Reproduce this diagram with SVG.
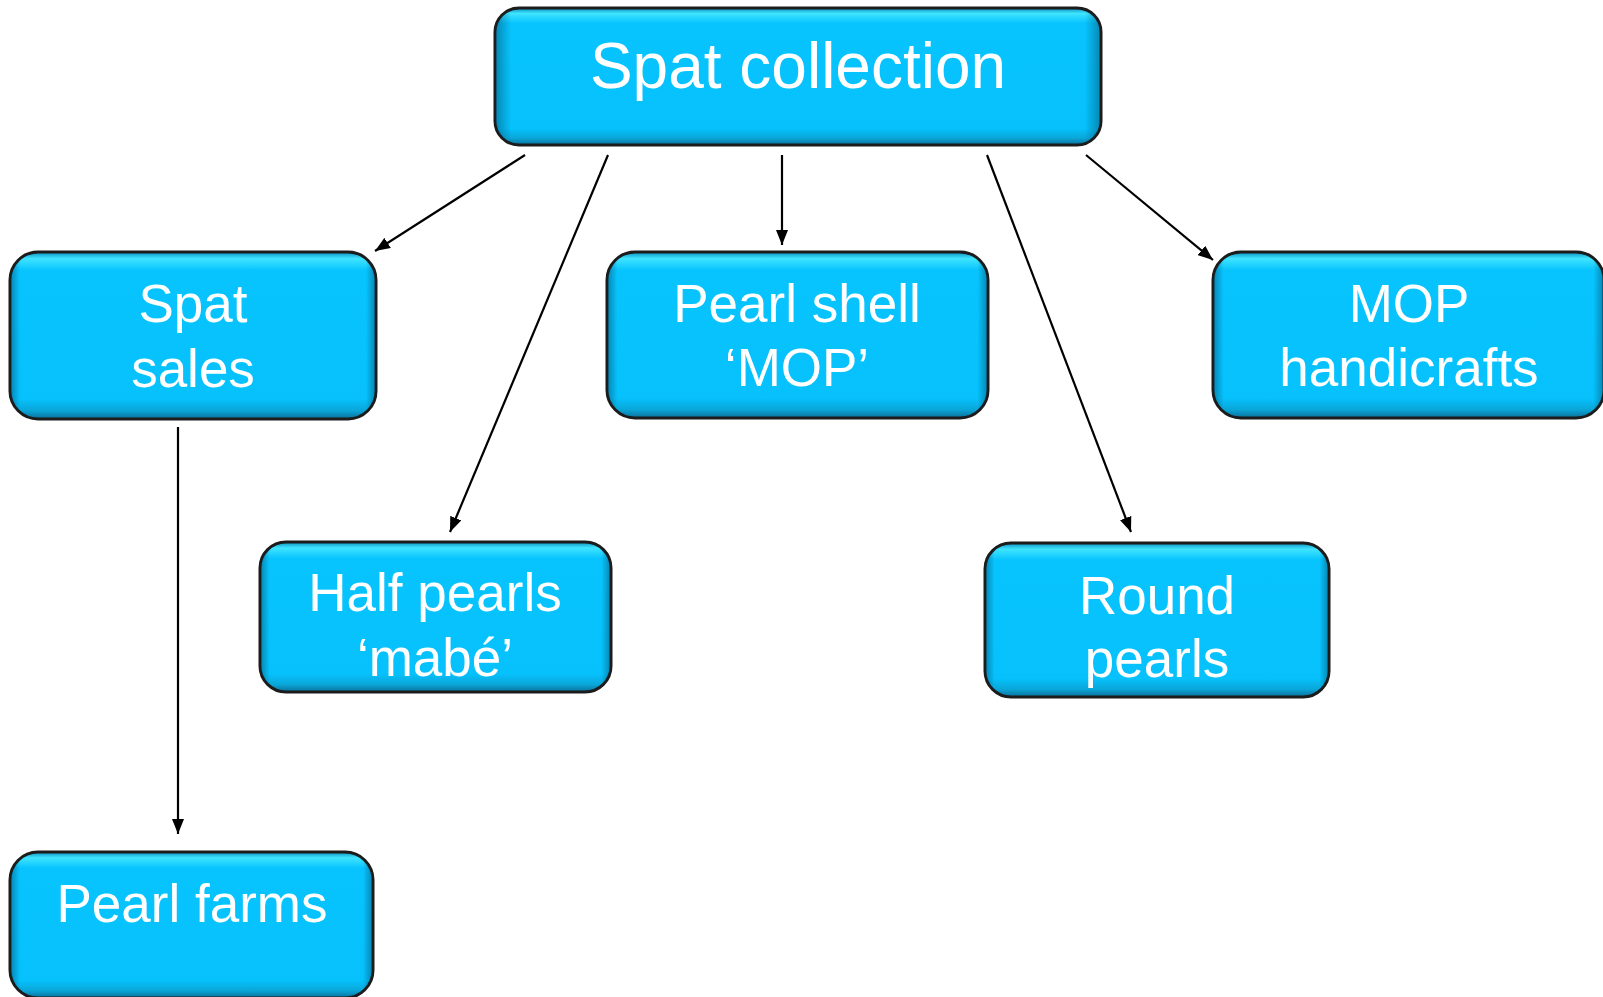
<svg xmlns="http://www.w3.org/2000/svg" width="1603" height="997" viewBox="0 0 1603 997">
<style>
.box{fill:url(#gv);stroke:#1c1c1c;stroke-width:3}
.edge{fill:url(#gh);stroke:none}
.lbl{font-family:"Liberation Sans",Arial,sans-serif;font-size:53px;fill:#ffffff;text-anchor:middle}
.big{font-size:64px}
.con{stroke:#000;stroke-width:2.2;fill:none;marker-end:url(#ah)}
</style>
<defs>
<linearGradient id="gv" x1="0" y1="0" x2="0" y2="1">
<stop offset="0" stop-color="#0b8fbf"/>
<stop offset="0.04" stop-color="#3fe4ff"/>
<stop offset="0.11" stop-color="#08c4fe"/>
<stop offset="0.88" stop-color="#06c1fc"/>
<stop offset="0.95" stop-color="#0aa6d8"/>
<stop offset="1" stop-color="#0b6f98"/>
</linearGradient>
<linearGradient id="gh" x1="0" y1="0" x2="1" y2="0">
<stop offset="0" stop-color="#05506e" stop-opacity="0.5"/>
<stop offset="0.025" stop-color="#05506e" stop-opacity="0"/>
<stop offset="0.975" stop-color="#05506e" stop-opacity="0"/>
<stop offset="1" stop-color="#05506e" stop-opacity="0.5"/>
</linearGradient>
<marker id="ah" markerUnits="userSpaceOnUse" markerWidth="16" markerHeight="12" refX="15" refY="6" orient="auto">
<path d="M0,0 L15,6 L0,12 z" fill="#000"/>
</marker>
</defs>
<rect width="1603" height="997" fill="#ffffff"/>
<g id="connectors">
<line class="con" x1="525" y1="155" x2="375" y2="251"/>
<line class="con" x1="608" y1="155" x2="450" y2="532"/>
<line class="con" x1="782" y1="155" x2="782" y2="245"/>
<line class="con" x1="987" y1="155" x2="1131" y2="532"/>
<line class="con" x1="1086" y1="155" x2="1213" y2="260"/>
<line class="con" x1="178" y1="427" x2="178" y2="834"/>
</g>
<g id="spat-collection">
<rect class="box" x="495" y="8" width="606" height="137" rx="24"/>
<rect class="edge" x="496" y="9" width="604" height="135" rx="23"/>
<text class="lbl big" x="798" y="88">Spat collection</text>
</g>
<g id="spat-sales">
<rect class="box" x="10" y="252" width="366" height="167" rx="28"/>
<rect class="edge" x="11" y="253" width="364" height="165" rx="27"/>
<text class="lbl" x="193" y="322">Spat</text>
<text class="lbl" x="193" y="387">sales</text>
</g>
<g id="pearl-shell">
<rect class="box" x="607" y="252" width="381" height="166" rx="28"/>
<rect class="edge" x="608" y="253" width="379" height="164" rx="27"/>
<text class="lbl" x="797" y="322">Pearl shell</text>
<text class="lbl" x="797" y="386">‘MOP’</text>
</g>
<g id="mop-handicrafts">
<rect class="box" x="1213" y="252" width="391" height="166" rx="28"/>
<rect class="edge" x="1214" y="253" width="389" height="164" rx="27"/>
<text class="lbl" x="1409" y="322">MOP</text>
<text class="lbl" x="1409" y="386">handicrafts</text>
</g>
<g id="half-pearls">
<rect class="box" x="260" y="542" width="351" height="150" rx="26"/>
<rect class="edge" x="261" y="543" width="349" height="148" rx="25"/>
<text class="lbl" x="435" y="611">Half pearls</text>
<text class="lbl" x="435" y="676">‘mabé’</text>
</g>
<g id="round-pearls">
<rect class="box" x="985" y="543" width="344" height="154" rx="26"/>
<rect class="edge" x="986" y="544" width="342" height="152" rx="25"/>
<text class="lbl" x="1157" y="614">Round</text>
<text class="lbl" x="1157" y="677">pearls</text>
</g>
<g id="pearl-farms">
<rect class="box" x="10" y="852" width="363" height="146" rx="28"/>
<rect class="edge" x="11" y="853" width="361" height="144" rx="27"/>
<text class="lbl" x="192" y="922">Pearl farms</text>
</g>
</svg>
